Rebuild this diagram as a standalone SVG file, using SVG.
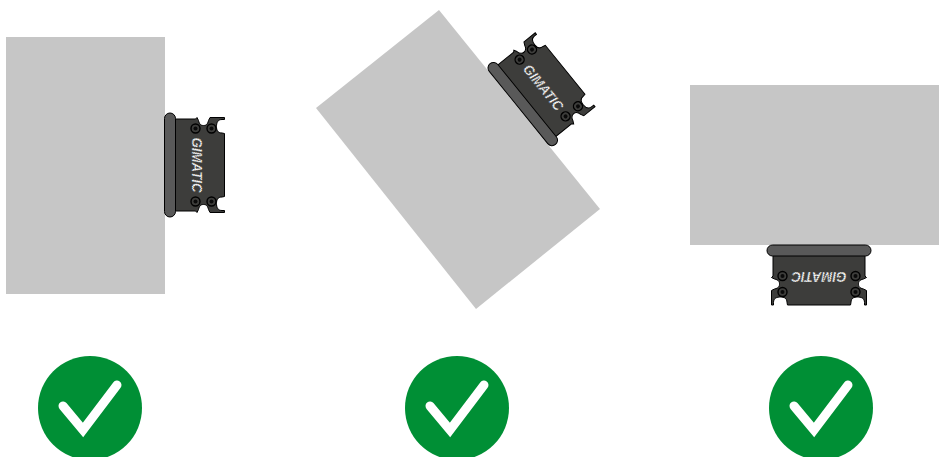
<svg xmlns="http://www.w3.org/2000/svg" width="939" height="457" viewBox="0 0 939 457">
<style>
.block{fill:#c6c6c6}
.ok{fill:#008f35}
.tick{fill:none;stroke:#fff;stroke-width:9;stroke-linecap:round;stroke-linejoin:miter}
.plate{fill:#595959;stroke:#000;stroke-width:1}
.body{fill:#3d3d3b;stroke:#000;stroke-width:1}
.screw{fill:#3d3d3b;stroke:#000;stroke-width:1.4}
.hole{fill:#0a0a0a}
.brand{font-family:"Liberation Sans",Arial,sans-serif;font-size:14px;font-weight:700;font-style:italic;fill:#f4f4f4;stroke:#3d3d3b;stroke-width:.9;stroke-dasharray:.8 1.2;text-anchor:middle}
</style>
<defs>
<g id="gripper">
<path class="body" d="M10,-46 H31 L32.5,-47.5 L34,-44.5 C35,-40 37,-39.5 39,-39.5 C41,-39.5 43,-40 44,-44.5 L45.5,-47.5 H60 V-45.5 L57.5,-45.5 C53,-45.5 52,-42 52,-38.5 C52,-35 53,-32 57.5,-32 L60,-31.5 V31.5 L57.5,32 C53,32 52,35 52,38.5 C52,42 53,45.5 57.5,45.5 L60,45.5 V47.5 H45.5 L44,44.5 C43,40 41,39.5 39,39.5 C37,39.5 35,40 34,44.5 L32.5,47.5 L31,46 H10 Z"/>
<rect class="plate" x="0" y="-52" width="11" height="104" rx="5.5"/>
<circle class="screw" cx="31" cy="-36.5" r="4.5"/><circle class="hole" cx="31" cy="-36.5" r="2"/>
<circle class="screw" cx="47" cy="-36.5" r="4.5"/><circle class="hole" cx="47" cy="-36.5" r="2"/>
<circle class="screw" cx="31" cy="36.5" r="4.5"/><circle class="hole" cx="31" cy="36.5" r="2"/>
<circle class="screw" cx="47" cy="36.5" r="4.5"/><circle class="hole" cx="47" cy="36.5" r="2"/>
</g>
</defs>
<g id="workpiece-1"><rect class="block" x="6" y="37" width="159" height="257"/></g>
<g id="workpiece-2"><polygon class="block" points="439,10 600,209 476,309 316,108"/></g>
<g id="workpiece-3"><rect class="block" x="690" y="85" width="249" height="160"/></g>
<g id="gripper-1" transform="translate(164.5,165)"><use href="#gripper"/><text class="brand" transform="translate(27,0) rotate(90)" textLength="55" lengthAdjust="spacingAndGlyphs">GIMATIC</text></g>
<g id="gripper-2" transform="translate(518.5,107.5) rotate(-39)"><use href="#gripper"/><text class="brand" transform="translate(27,0) rotate(90)" textLength="55" lengthAdjust="spacingAndGlyphs">GIMATIC</text></g>
<g id="gripper-3" transform="translate(819,245) rotate(90)"><use href="#gripper"/><text class="brand" transform="translate(27,0) rotate(90)" textLength="55" lengthAdjust="spacingAndGlyphs">GIMATIC</text></g>
<g id="check-1"><circle class="ok" cx="90" cy="408" r="52"/><path class="tick" d="M63,406 L83,430 L117,385"/></g>
<g id="check-2"><circle class="ok" cx="457" cy="408" r="52"/><path class="tick" d="M430,406 L450,430 L484,385"/></g>
<g id="check-3"><circle class="ok" cx="821" cy="408" r="52"/><path class="tick" d="M794,406 L814,430 L848,385"/></g>
</svg>
